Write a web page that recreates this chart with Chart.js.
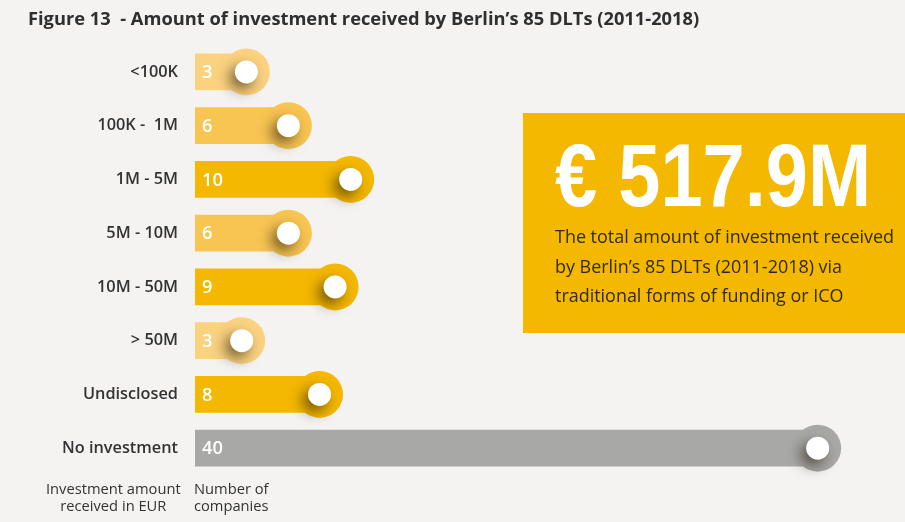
<!DOCTYPE html>
<html><head><meta charset="utf-8">
<script src="https://cdn.jsdelivr.net/npm/chart.js@4"></script>
<style>
html,body{margin:0;padding:0;background:#f4f3f2;width:905px;height:522px;overflow:hidden}
#wrap{position:relative;width:905px;height:522px}
canvas{position:absolute;left:0;top:0}
.t{position:absolute;white-space:nowrap}
#title{left:28px;top:7px;font:700 18.3px/22px "Open Sans";color:#2f2f2f}
#box{position:absolute;left:523px;top:113px;width:382px;height:220px;background:#f4b800}
#big{left:555px;top:125px;font:700 89px/100px "Liberation Sans";color:#fff;transform:scaleX(.852);transform-origin:0 0}
#body{left:555px;top:222px;font:400 17.95px/29.5px "Open Sans";color:#33290c}
.foot{font:400 14.7px/16.5px "Open Sans";color:#333}
#f1{left:46px;top:480px;text-align:center}
#f2{left:194px;top:480px}
</style></head><body>
<div id="wrap">
<div id="box"></div>
<canvas id="c" width="905" height="522"></canvas>
<div class="t" id="title">Figure 13 &nbsp;- Amount of investment received by Berlin’s 85 DLTs (2011-2018)</div>
<div class="t" id="big">€ 517.9M</div>
<div class="t" id="body">The total amount of investment received<br>by Berlin’s 85 DLTs (2011-2018) via<br>traditional forms of funding or ICO</div>
<div class="t foot" id="f1">Investment amount<br>received in EUR</div>
<div class="t foot" id="f2">Number of<br>companies</div>
</div>
<script>
const categories=["<100K","100K -  1M","1M - 5M","5M - 10M","10M - 50M","> 50M","Undisclosed","No investment"];
const counts=[3,6,10,6,9,3,8,40];
const barLengths=[3.3,6,10,6,9,3,8,40];
const colors=["#fbd27f","#f8c452","#f4b800","#f8c452","#f4b800","#fbd27f","#f4b800","#a8a8a7"];
const xs=categories.map((c,i)=>({x:barLengths[i],y:c}));
const shadowPlugin={id:'knobShadow',
 beforeDatasetDraw(chart,args){
  if(args.index===2){const x=chart.ctx;x.save();x.shadowColor='rgba(30,20,0,0.62)';x.shadowBlur=14;x.shadowOffsetX=-5;x.shadowOffsetY=6;}
 },
 afterDatasetDraw(chart,args){ if(args.index===2) chart.ctx.restore(); },
 afterDatasetsDraw(chart){
  const x=chart.ctx,m=chart.getDatasetMeta(0);
  x.save();x.fillStyle='#fff';x.font='600 18.3px "Open Sans"';x.textBaseline='middle';x.textAlign='left';
  m.data.forEach((b,i)=>x.fillText(String(counts[i]),b.base+7,b.y+1));
  x.restore();
 }};
new Chart(document.getElementById('c'),{
 data:{labels:categories,datasets:[
  {type:'bar',data:barLengths,backgroundColor:colors,barThickness:36,order:3},
  {type:'line',data:xs,showLine:false,pointRadius:23.5,pointHoverRadius:23.5,pointBorderWidth:0,pointBackgroundColor:colors,clip:false,order:2},
  {type:'line',data:xs,showLine:false,pointRadius:11.5,pointHoverRadius:11.5,pointBorderWidth:0,pointBackgroundColor:'#fff',clip:false,order:1}
 ]},
 options:{indexAxis:'y',responsive:false,animation:false,devicePixelRatio:1,
  layout:{padding:{left:0,top:45,right:10,bottom:47}},
  plugins:{legend:{display:false},tooltip:{enabled:false},title:{display:false}},
  scales:{
   x:{min:0,max:44.1,display:false,grid:{display:false}},
   y:{type:'category',grid:{display:false,drawTicks:false},border:{display:false},
      afterFit(s){s.width=195;},
      ticks:{color:'#333',padding:17,font:{family:'"Open Sans"',size:16.3,weight:'600'}}}
  }},
 plugins:[shadowPlugin]
});
</script>
</body></html>
